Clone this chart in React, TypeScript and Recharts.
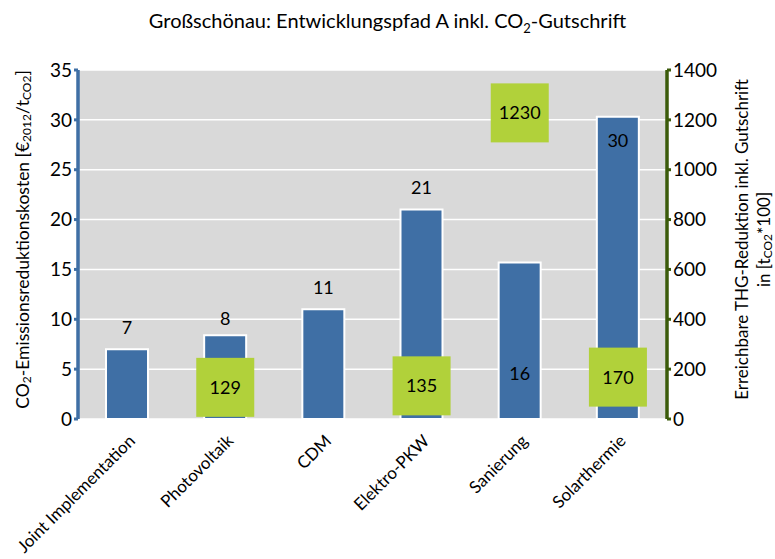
import { Bar, CartesianGrid, ComposedChart, LabelList, Scatter, XAxis, YAxis } from "recharts";

const categories = ["Joint Implementation", "Photovoltaik", "CDM", "Elektro-PKW", "Sanierung", "Solarthermie"];
const costs = [7, 8.4, 11, 21, 15.7, 30.3];
const costLabels = ["7", "8", "11", "21", "16", "30"];
const reduction: (number | null)[] = [null, 129, null, 135, 1230, 170];
const leftTicks = [0, 5, 10, 15, 20, 25, 30, 35];
const rightTicks = [0, 200, 400, 600, 800, 1000, 1200, 1400];
const edgeTicks = [0, 1, 2, 3, 4, 5, 6];

// Excel placed the cost labels a bit oddly: above the bar, or inside it
const costLabelDy = [-22, -17, -22, -23, 111, 23];

const data = categories.map((name, i) => ({ name, cost: costs[i], label: costLabels[i], reduction: reduction[i] }));

const font = "Lato, 'Open Sans', sans-serif";
const blue = "#3f6fa5";
const green = "#b1d13a";
const darkGreen = "#3b5b0b";

function CategoryTick({ x, y, payload }: any) {
  return (
    <text x={x + 9} y={y + 15} transform={`rotate(-45, ${x + 9}, ${y + 15})`} textAnchor="end" fontSize={17} fontFamily={font} fill="#000">
      {payload.value}
    </text>
  );
}

function CostLabel({ x, y, width, index }: any) {
  return (
    <text x={x + width / 2} y={y + costLabelDy[index]} textAnchor="middle" dominantBaseline="central" fontSize={18} fontFamily={font} fill="#000">
      {costLabels[index]}
    </text>
  );
}

function Square({ cx, cy, payload }: any) {
  if (payload?.reduction == null || cx == null || cy == null || isNaN(cy)) return <g />;
  return (
    <g>
      <rect x={cx - 29} y={cy - 29} width={58} height={59} fill={green} />
      <text x={cx} y={cy} textAnchor="middle" dominantBaseline="central" fontSize={18} fontFamily={font} fill="#000">
        {payload.reduction}
      </text>
    </g>
  );
}

function LeftTitle({ viewBox }: any) {
  const cx = 22;
  const cy = viewBox.y + viewBox.height / 2 - 5;
  return (
    <text x={cx} y={cy} transform={`rotate(-90, ${cx}, ${cy})`} textAnchor="middle" dominantBaseline="central" fontSize={17.5} fontFamily={font} fill="#000">
      CO<tspan fontSize={12} dy={4}>2</tspan>
      <tspan dy={-4}>-Emissionsreduktionskosten [€</tspan>
      <tspan fontSize={12} dy={4}>2012</tspan>
      <tspan dy={-4}>/t</tspan>
      <tspan fontSize={12} dy={4}>CO2</tspan>
      <tspan dy={-4}>]</tspan>
    </text>
  );
}

function RightTitle({ viewBox }: any) {
  const cx = 741;
  const cy = viewBox.y + viewBox.height / 2 - 5;
  return (
    <g transform={`rotate(-90, ${cx}, ${cy})`}>
      <text x={cx} y={cy} textAnchor="middle" dominantBaseline="central" fontSize={17} fontFamily={font} fill="#000">
        Erreichbare THG-Reduktion inkl. Gutschrift
      </text>
      <text x={cx} y={cy + 22} textAnchor="middle" dominantBaseline="central" fontSize={17} fontFamily={font} fill="#000">
        in [t<tspan fontSize={12} dy={4}>CO2</tspan>
        <tspan dy={-4}>*100]</tspan>
      </text>
    </g>
  );
}

export default function App() {
  return (
    <div style={{ position: "absolute", left: 0, top: 0, width: 775, height: 559, background: "#fff", fontFamily: font }}>
      <div style={{ position: "absolute", left: 0, top: 8, width: 775, textAlign: "center", fontSize: 20, color: "#000" }}>
        Großschönau: Entwicklungspfad A inkl. CO<sub style={{ fontSize: 13 }}>2</sub>-Gutschrift
      </div>
      <ComposedChart width={775} height={559} data={data} margin={{ top: 70, right: 0, bottom: 0, left: 0 }}>
        <CartesianGrid fill="#d9d9d9" stroke="#fff" strokeWidth={1.5} vertical={false} yAxisId="left" />
        <XAxis
          xAxisId="edges"
          type="number"
          domain={[0, 6]}
          ticks={edgeTicks}
          tick={false}
          tickSize={6}
          height={0}
          axisLine={{ stroke: "#000", strokeWidth: 1.5 }}
          tickLine={{ stroke: "#000", strokeWidth: 1.5 }}
        />
        <XAxis xAxisId="cat" dataKey="name" interval={0} height={140} axisLine={false} tickLine={false} tick={<CategoryTick />} />
        <YAxis
          yAxisId="left"
          domain={[0, 35]}
          ticks={leftTicks}
          width={78}
          tickSize={4}
          axisLine={{ stroke: blue, strokeWidth: 3.5 }}
          tickLine={{ stroke: blue, strokeWidth: 3 }}
          tick={{ fontSize: 19, fill: "#000", fontFamily: font }}
          label={{ content: <LeftTitle /> }}
        />
        <YAxis
          yAxisId="right"
          orientation="right"
          domain={[0, 1400]}
          ticks={rightTicks}
          width={108}
          tickSize={4}
          axisLine={{ stroke: darkGreen, strokeWidth: 3.5 }}
          tickLine={{ stroke: darkGreen, strokeWidth: 3 }}
          tick={{ fontSize: 19, fill: "#000", fontFamily: font, textAnchor: "start" }}
          label={{ content: <RightTitle /> }}
        />
        <Bar xAxisId="cat" yAxisId="left" dataKey="cost" barSize={42} fill={blue} stroke="#fff" strokeWidth={2} isAnimationActive={false}>
          <LabelList dataKey="label" content={<CostLabel />} />
        </Bar>
        <Scatter xAxisId="cat" yAxisId="right" dataKey="reduction" shape={<Square />} isAnimationActive={false} />
      </ComposedChart>
    </div>
  );
}
